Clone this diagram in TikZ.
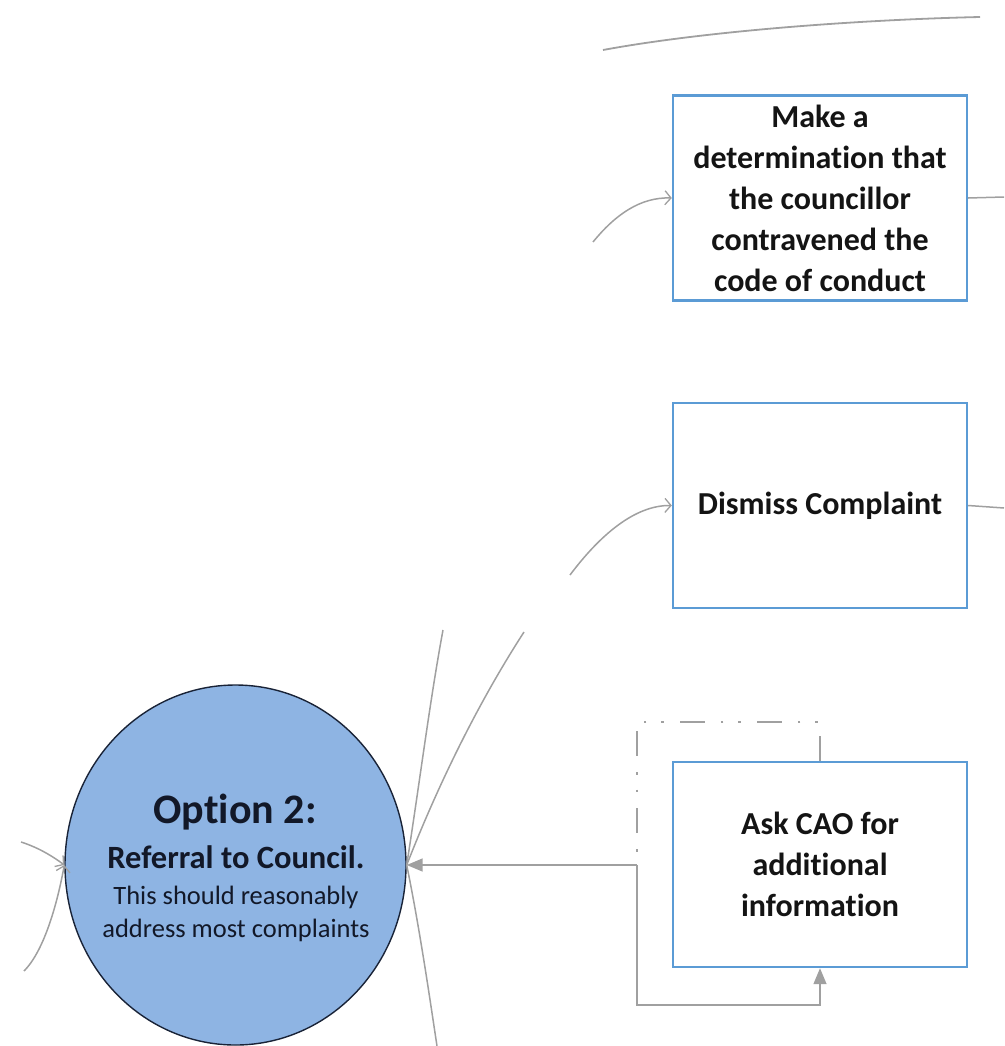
\documentclass[tikz,border=0pt]{standalone}
\usepackage{fontspec}
\setmainfont{Carlito}[Ligatures=NoCommon]
\usetikzlibrary{shapes.geometric,arrows.meta}
\definecolor{boxblue}{RGB}{91,155,213}
\definecolor{circfill}{RGB}{142,180,227}
\definecolor{circline}{RGB}{25,35,55}
\definecolor{conn}{RGB}{160,160,160}
\definecolor{txt}{RGB}{20,20,20}
\definecolor{ctxt}{RGB}{18,24,40}
\tikzset{
  stepbox/.style={draw=boxblue, line width=2.4pt, fill=white, minimum width=294pt, minimum height=205pt, inner sep=0pt, align=center, text=txt, font=\fontsize{32}{41}\selectfont\bfseries},
  optcirc/.style={ellipse, draw=circline, line width=1.4pt, fill=circfill, minimum width=341pt, minimum height=360pt, inner sep=0pt},
  ctext/.style={anchor=base, inner sep=0pt, text=ctxt},
  link/.style={draw=conn, line width=1.5pt},
  openarr/.style={link, -{Straight Barb[length=6pt,width=14pt,line width=1.3pt]}},
  fillarr/.style={link, -{Triangle[length=16pt,width=13pt]}},
  dashdot/.style={draw=conn, line width=2pt, dash pattern=on 25pt off 16pt on 2.5pt off 15pt on 2.5pt off 16pt}
}
\begin{document}
\begin{tikzpicture}[x=1pt,y=-1pt]
\useasboundingbox (0,0) rectangle (1004,1046);
% nodes
\node[stepbox] (b1) at (820,198) {Make a\\determination that\\the councillor\\contravened the\\code of conduct};
\node[stepbox] (b2) at (820,505.5) {Dismiss Complaint};
\node[stepbox] (b3) at (820,864.5) {Ask CAO for\\additional\\information};
\node[optcirc] (opt) at (235.5,865) {};
\node[ctext, font=\fontsize{42}{48}\selectfont\bfseries] (o1) at (235,823) {Option 2:};
\node[ctext, font=\fontsize{32.5}{38}\selectfont\bfseries] (o2) at (236,868) {Referral to Council.};
\node[ctext, font=\fontsize{26.5}{32}\selectfont] (o3) at (236,904) {This should reasonably};
\node[ctext, font=\fontsize{26.5}{32}\selectfont] (o4) at (236,937) {address most complaints};
% free ends
\coordinate (t1) at (603,50);
\coordinate (t2) at (980,17);
\coordinate (a1) at (593,242);
\coordinate (a2) at (570,575);
\coordinate (r1) at (1004,197);
\coordinate (r2) at (1004,508);
\coordinate (u1) at (443,630);
\coordinate (u2) at (524,632);
\coordinate (d1) at (437,1046);
\coordinate (l1) at (21,842);
\coordinate (l2) at (24,971);
\coordinate (loopA) at (637,865);
% connectors
\draw[link, line width=1.8pt] (t1) .. controls (700,32) and (850,20) .. (t2);
\draw[openarr] (a1) .. controls (615,215) and (640,197) .. (b1.west);
\draw[openarr] (a2) .. controls (600,535) and (635,505) .. (b2.west);
\draw[link] (b1.east) -- (r1);
\draw[link] (b2.east) -- (r2);
\draw[link] (opt.east) .. controls (420,780) and (430,700) .. (u1);
\draw[link] (opt.east) .. controls (440,780) and (480,700) .. (u2);
\draw[link] (opt.east) .. controls (420,930) and (430,1000) .. (d1);
\draw[openarr] (l1) .. controls (40,848) and (55,858) .. (opt.west);
\draw[openarr] (l2) .. controls (45,950) and (58,900) .. (opt.west);
\draw[fillarr] (loopA) -- (opt.east);
\draw[fillarr] (loopA) |- (728.5,1005) -| (b3.south);
\draw[dashdot] (b3.north) |- (637,722) -- (loopA);
\end{tikzpicture}
\end{document}
